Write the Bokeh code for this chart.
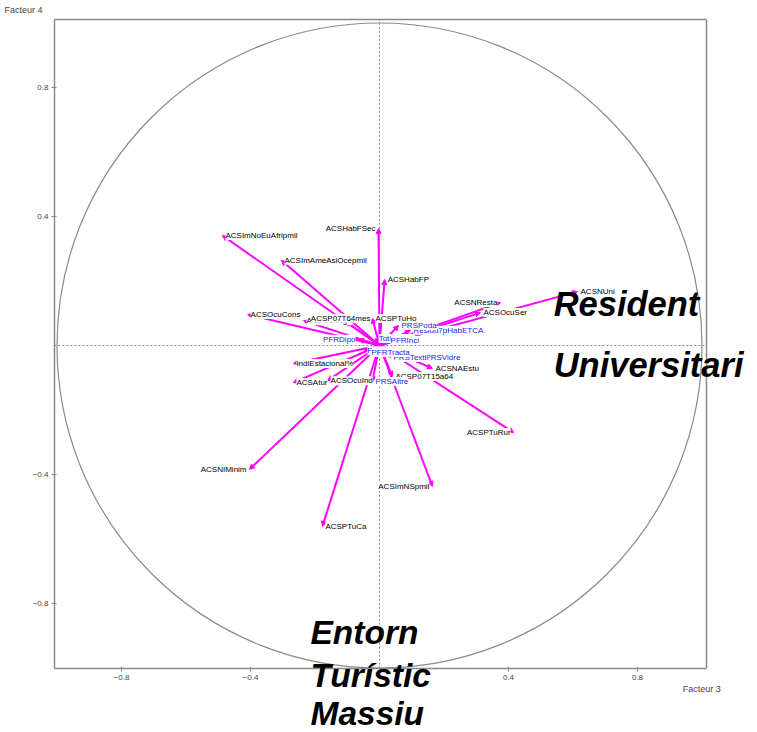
from bokeh.plotting import figure
from bokeh.models import ColumnDataSource, Arrow, NormalHead, Label, Range1d, LinearAxis
from bokeh.embed import file_html
from bokeh.resources import INLINE
from bokeh.core.properties import value

# ---- data: active variables (black labels) ----
act_names = ["ACSImNoEuAfripmil", "ACSImAmeAsiOcepmil", "ACSHabFSec", "ACSHabFP",
             "ACSOcuCons", "ACSOcuAgri", "ACSP07T64mes", "ACSPTuHo", "ACSNResta",
             "ACSNUni", "ACSOcuSer", "IndiEstacional%", "ACSAtur", "ACSOcuInd",
             "ACSNIMinim", "ACSPTuCa", "ACSImNSpmil", "ACSPTuRur", "ACSNAEstu",
             "ACSP07T15a64"]
act_f3 = [-0.487, -0.304, -0.003, 0.016, -0.409, -0.236, -0.105, -0.022, 0.375,
          0.614, 0.313, -0.267, -0.267, -0.161, -0.403, -0.177, 0.164, 0.416,
          0.164, 0.040]
act_f4 = [0.341, 0.264, 0.363, 0.205, 0.096, 0.077, 0.075, 0.084, 0.133,
          0.167, 0.102, -0.056, -0.115, -0.109, -0.384, -0.561, -0.437, -0.270,
          -0.071, -0.096]

# ---- data: supplementary variables (blue labels) ----
sup_names = ["Residu7pHabETCA", "PRSPoda", "TotFResta", "PFRInci", "PFRDipo",
             "PRSPaper", "PRSVidre", "PRSTextil", "PFRTracta", "PRSAltre"]
sup_f3 = [0.096, 0.059, -0.012, 0.025, -0.065, -0.047, 0.133, 0.034, -0.034, -0.022]
sup_f4 = [0.047, 0.062, 0.022, 0.016, 0.019, -0.016, -0.037, -0.037, -0.022, -0.112]

tick_values = [-0.8, -0.4, 0.4, 0.8]
x_title = "Facteur 3"
y_title = "Facteur 4"
zone_a = ["Resident", "Universitari"]
zone_b = ["Entorn", "Turístic", "Massiu"]

# plotting box (factor limits shown)
BX0, BX1 = -1.008, 1.014
BY0, BY1 = -1.002, 1.011

# ---- styling: label side relative to arrow tip ----
left_side = {"ACSHabFSec", "ACSNResta", "ACSNIMinim", "ACSImNSpmil", "ACSPTuRur", "PFRDipo"}
centre_side = {"ACSP07T64mes"}

MAG = "#FF00FF"
BLUE = "#1A1AF0"
GREY = "#8a8a8a"
FONT = "Liberation Sans"

names = act_names + sup_names
xs = act_f3 + sup_f3
ys = act_f4 + sup_f4
colors = ["#000000"] * len(act_names) + [BLUE] * len(sup_names)
aligns, dxs, dys = [], [], []
for n in names:
    if n in left_side:
        aligns.append("right"); dxs.append(-3); dys.append(0)
    elif n in centre_side:
        aligns.append("center"); dxs.append(-5); dys.append(-3)
    else:
        aligns.append("left"); dxs.append(3); dys.append(0)

src = ColumnDataSource(dict(x0=[0] * len(names), y0=[0] * len(names), x=xs, y=ys,
                            name=names, color=colors, align=aligns, dx=dxs, dy=dys))

W, H = 757, 732
CX, CY, S = 379, 345, 322.5   # pixel position of origin and pixels per unit
p = figure(frame_width=W, frame_height=H,
           x_range=Range1d(-CX / S, (W - CX) / S), y_range=Range1d(-(H - CY) / S, CY / S),
           min_border=0, output_backend="svg", toolbar_location=None)
p.grid.visible = False
p.outline_line_color = None
p.background_fill_color = "white"
p.border_fill_color = "white"

p.xaxis.fixed_location = BY0
p.xaxis.bounds = (BX0, BX1)
p.yaxis.fixed_location = BX0
p.yaxis.bounds = (BY0, BY1)
for ax in (p.xaxis, p.yaxis):
    ax.ticker = tick_values
    ax.minor_tick_line_color = None
    ax.axis_line_color = GREY
    ax.axis_line_width = 1.5
    ax.major_tick_line_color = GREY
    ax.major_tick_in = 2
    ax.major_tick_out = 3
    ax.major_label_text_font = FONT
    ax.major_label_text_font_size = "8px"
    ax.major_label_text_color = "#444444"
p.xaxis.major_label_standoff = 3
p.yaxis.major_label_standoff = 3

right_ax = LinearAxis(fixed_location=BX1, bounds=(BY0, BY1), ticker=[],
                      axis_line_color=GREY, axis_line_width=1.5,
                      major_tick_line_color=None, minor_tick_line_color=None,
                      major_label_text_font_size="0px")
top_ax = LinearAxis(fixed_location=BY1, bounds=(BX0, BX1), ticker=[],
                    axis_line_color=GREY, axis_line_width=1.5,
                    major_tick_line_color=None, minor_tick_line_color=None,
                    major_label_text_font_size="0px")
p.add_layout(right_ax, "right")
p.add_layout(top_ax, "above")

# circle of correlations and the two factor axes (dotted)
p.ellipse(x=0, y=0, width=2, height=2, fill_color=None, line_color=GREY,
          line_width=1.2, level="underlay")
p.segment(x0=[0, BX0], y0=[BY0, 0], x1=[0, BX1], y1=[BY1, 0], line_color=GREY,
          line_dash="2 2", line_width=1, level="underlay")

arrow = Arrow(end=NormalHead(size=5, line_color=MAG, fill_color=MAG, line_width=1),
              x_start="x0", y_start="y0", x_end="x", y_end="y", source=src,
              line_color=MAG, line_width=2, level="underlay")
p.add_layout(arrow)

p.text(x="x", y="y", text="name", source=src, text_align="align", x_offset="dx",
       y_offset="dy", text_color="color", text_font=value(FONT),
       text_font_size="8px", text_baseline="middle", background_fill_color="white")

# axis titles
p.add_layout(Label(x=-1.163, y=1.039, text=y_title, text_font=FONT,
                   text_font_size="9px", text_color="#444444", text_baseline="middle"))
p.add_layout(Label(x=0.940, y=-1.064, text=x_title, text_font=FONT,
                   text_font_size="9px", text_color="#444444", text_baseline="middle"))

# zone annotations
for t, yy in zip(zone_a, [0.13, -0.059]):
    p.add_layout(Label(x=0.54, y=yy, text=t, text_font=FONT,
                       text_font_size="34.5px", text_font_style="bold italic",
                       text_color="black", text_baseline="middle"))
for t, yy in zip(zone_b, [-0.890, -1.022, -1.142]):
    p.add_layout(Label(x=-0.214, y=yy, text=t, text_font=FONT,
                       text_font_size="33.5px", text_font_style="bold italic",
                       text_color="black", text_baseline="middle"))

open("out.html", "w").write(file_html(p, INLINE))
